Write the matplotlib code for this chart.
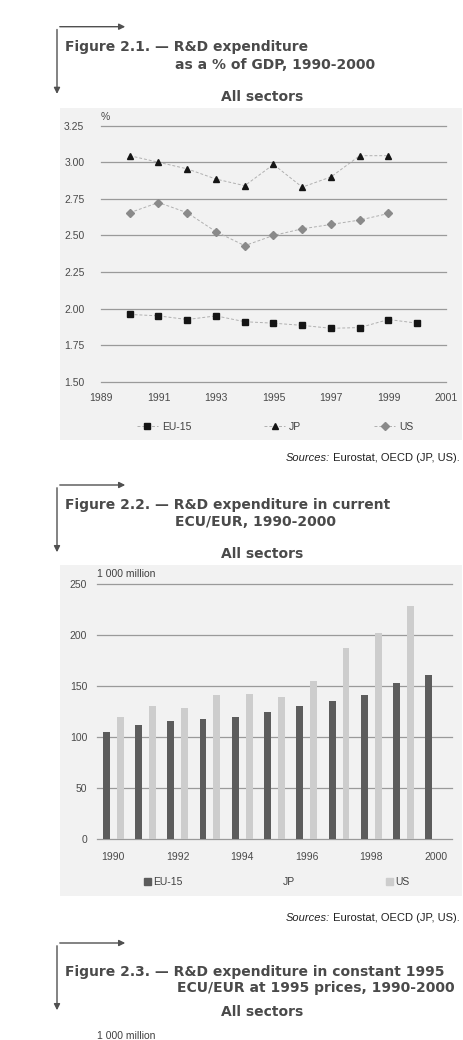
import numpy as np
import matplotlib
matplotlib.use("Agg")
import matplotlib.pyplot as plt
from matplotlib.patches import FancyArrowPatch, Patch, Rectangle
from matplotlib.lines import Line2D

plt.rcParams['font.family'] = ['Liberation Sans', 'DejaVu Sans']

# --- data -----------------------------------------------------------------
years = [1990, 1991, 1992, 1993, 1994, 1995, 1996, 1997, 1998, 1999, 2000]

# Figure 2.1 : R&D expenditure as % of GDP
eu_gdp = [1.96, 1.95, 1.925, 1.95, 1.91, 1.90, 1.885, 1.865, 1.87, 1.925, 1.90]
jp_gdp = [3.045, 3.00, 2.955, 2.885, 2.84, 2.985, 2.83, 2.90, 3.045, 3.045, np.nan]
us_gdp = [2.655, 2.725, 2.655, 2.525, 2.43, 2.50, 2.545, 2.575, 2.605, 2.65, np.nan]

# Figure 2.2 : R&D expenditure in current ECU/EUR (1 000 million)
eu_cur = [105, 112, 116, 118, 120, 125, 130, 135, 141, 153, 161]
jp_cur = [73, 83, 89, 100, 107, 107, 99, 107, 101, 125, np.nan]   # not visible in the scan
us_cur = [120, 130, 128, 141, 142, 139, 155, 187, 202, 228, np.nan]

W, H = 464, 1040
fig = plt.figure(figsize=(W / 100, H / 100), dpi=100)
fig.patch.set_facecolor('white')

GRID = '#9a9a9a'
PANEL = '#f2f2f2'
HEAD = 'DejaVu Sans'
FS = 7.5


def fx(x):
    return x / W


def fy(y):
    return 1 - y / H


def box(l, t, r, b):
    return [fx(l), fy(b), (r - l) / W, (b - t) / H]


def panel(l, t, r, b):
    fig.add_artist(Rectangle((fx(l), fy(b)), (r - l) / W, (b - t) / H,
                             transform=fig.transFigure, color=PANEL, lw=0, zorder=-5))


def header(y_arrow, y1, y2, y_sec, line1, line2, x2=175):
    fig.add_artist(FancyArrowPatch((fx(57), fy(y_arrow)), (fx(57), fy(y_arrow + 70)),
                                   transform=fig.transFigure, arrowstyle='-|>',
                                   mutation_scale=9, lw=1.0, color='#505050'))
    fig.add_artist(FancyArrowPatch((fx(57), fy(y_arrow)), (fx(128), fy(y_arrow)),
                                   transform=fig.transFigure, arrowstyle='-|>',
                                   mutation_scale=9, lw=1.0, color='#505050'))
    kw = dict(fontsize=10, fontweight='bold', color='#4a4a4a', va='center', family=HEAD)
    fig.text(fx(65), fy(y1), line1, **kw)
    fig.text(fx(x2), fy(y2), line2, **kw)
    fig.text(fx(262), fy(y_sec), 'All sectors', ha='center', **kw)


def sources(y):
    t = fig.text(fx(460), fy(y), ' Eurostat, OECD (JP, US).', fontsize=8,
                 color='#202020', ha='right', va='center')
    fig.canvas.draw()
    bb = t.get_window_extent()
    fig.text(bb.x0, fy(y) * H, 'Sources:', fontsize=8, style='italic', color='#202020',
             ha='right', va='center', transform=None)


def style_axes(ax):
    ax.set_facecolor('none')
    for s in ax.spines.values():
        s.set_visible(False)
    ax.grid(axis='y', color=GRID, lw=0.9)
    ax.set_axisbelow(True)
    ax.tick_params(length=0, labelsize=FS, labelcolor='#4a4a4a')


def unclip_grid(ax):
    for gl in ax.get_ygridlines():
        gl.set_clip_on(False)


# --- Figure 2.1 -------------------------------------------------------------
panel(60, 108, 462, 440)
header(26.7, 46.5, 65, 97, 'Figure 2.1. \u2014 R&D expenditure', 'as a % of GDP, 1990-2000')
ax1 = fig.add_axes(box(101, 125.7, 446, 381.7))
style_axes(ax1)
ax1.set_xlim(1989, 2001)
ax1.set_ylim(1.5, 3.25)
ax1.set_xticks(range(1989, 2002, 2))
ax1.set_yticks(np.arange(1.5, 3.26, 0.25))
ax1.yaxis.set_major_formatter(lambda v, _: f'{v:.2f}')
ax1.tick_params(axis='y', pad=12)
ax1.tick_params(axis='x', pad=8)
unclip_grid(ax1)
ls = dict(ls=(0, (3, 2)), lw=0.7, color='#b0b0b0')
ax1.plot(years, eu_gdp, **ls, marker='s', ms=4.5, mfc='#151515', mec='#151515')
ax1.plot(years, jp_gdp, **ls, marker='^', ms=5, mfc='#151515', mec='#151515')
ax1.plot(years, us_gdp, **ls, marker='D', ms=3.8, mfc='#8a8a8a', mec='#8a8a8a')
fig.text(fx(101), fy(117), '%', fontsize=FS, color='#4a4a4a', va='center')

h1 = [Line2D([], [], **ls, marker='s', ms=4.5, mfc='#151515', mec='#151515'),
      Line2D([], [], **ls, marker='^', ms=5, mfc='#151515', mec='#151515'),
      Line2D([], [], **ls, marker='D', ms=3.8, mfc='#8a8a8a', mec='#8a8a8a')]
fig.legend(h1, ['EU-15', 'JP', 'US'], ncol=3, loc='center left',
           bbox_to_anchor=(fx(137), fy(427)), frameon=False, fontsize=FS,
           handlelength=2.0, handletextpad=0.4, columnspacing=7.0,
           borderpad=0, borderaxespad=0, labelcolor='#404040')
sources(458)

# --- Figure 2.2 -------------------------------------------------------------
panel(60, 565, 462, 896)
header(485, 505, 522, 554, 'Figure 2.2. \u2014 R&D expenditure in current', 'ECU/EUR, 1990-2000')
ax2 = fig.add_axes(box(97, 584, 452, 839))
style_axes(ax2)
yrs = np.array(years)
bw = 0.215
ax2.bar(yrs - bw, eu_cur, width=bw, color='#5c5c5c', zorder=2)
ax2.bar(yrs, jp_cur, width=bw, color=PANEL, zorder=0.4)
ax2.bar(yrs + bw, us_cur, width=bw, color='#cdcdcd', zorder=2)
ax2.set_xlim(1989.5, 2000.5)
ax2.set_ylim(0, 250)
ax2.set_xticks(range(1990, 2001, 2))
ax2.set_yticks(range(0, 251, 50))
ax2.tick_params(axis='y', pad=7)
ax2.tick_params(axis='x', pad=9)
unclip_grid(ax2)
fig.text(fx(97), fy(574), '1 000 million', fontsize=FS, color='#404040', va='center')

h2 = [Patch(color='#5c5c5c'), Patch(color=PANEL), Patch(color='#cdcdcd')]
fig.legend(h2, ['EU-15', 'JP', 'US'], ncol=3, loc='center left',
           bbox_to_anchor=(fx(144), fy(882)), frameon=False, fontsize=FS,
           handlelength=0.7, handleheight=0.7, handletextpad=0.2, columnspacing=8.7,
           borderpad=0, borderaxespad=0, labelcolor='#404040')
sources(918)

# --- Figure 2.3 (header only, chart cut off) --------------------------------
header(943, 972, 988, 1012, 'Figure 2.3. \u2014 R&D expenditure in constant 1995',
       'ECU/EUR at 1995 prices, 1990-2000', x2=177)
fig.text(fx(97), fy(1036), '1 000 million', fontsize=FS, color='#404040', va='center')

fig.savefig('out.png', dpi=100, facecolor=fig.get_facecolor())
